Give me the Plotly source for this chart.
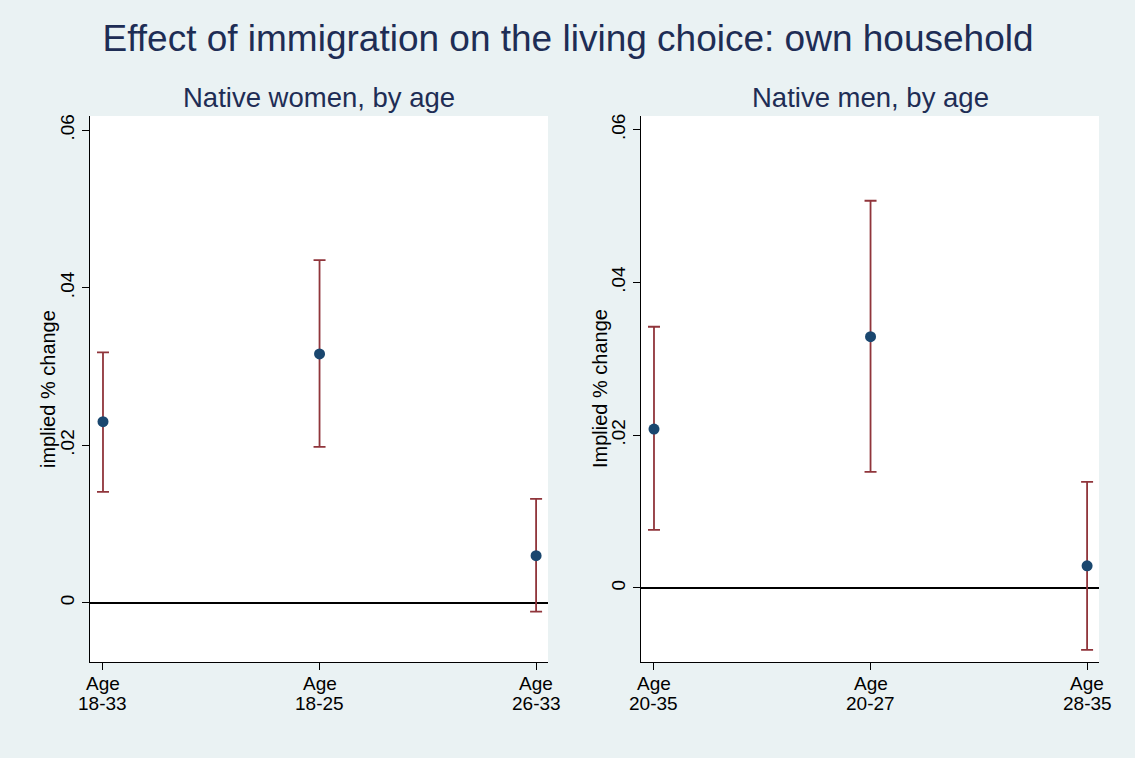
import plotly.graph_objects as go

# Data
women_ages = ["18-33", "18-25", "26-33"]
women_est = [0.0230, 0.0316, 0.0060]
women_hi = [0.0318, 0.0435, 0.0132]
women_lo = [0.0141, 0.0198, -0.0011]

men_ages = ["20-35", "20-27", "28-35"]
men_est = [0.0208, 0.0329, 0.0029]
men_hi = [0.0342, 0.0507, 0.0139]
men_lo = [0.0076, 0.0152, -0.0081]

xtick_word = ["Age", "Age", "Age"]
ytick_vals = [0, 0.02, 0.04, 0.06]
ytick_text = ["0", ".02", ".04", ".06"]

NAVY = "#1A476F"
TITLE = "#1E2D55"
MAROON = "#90353B"
BG = "#EAF2F3"
FONT = "Liberation Sans, Arial, sans-serif"

fig = go.Figure()

def add_panel(est, hi, lo, xa, ya):
    xs = [1, 2, 3]
    fig.add_trace(go.Scatter(
        x=xs, y=est, mode="markers",
        marker=dict(color=NAVY, size=11),
        error_y=dict(type="data", symmetric=False,
                     array=[h - e for h, e in zip(hi, est)],
                     arrayminus=[e - l for e, l in zip(est, lo)],
                     color=MAROON, thickness=1.8, width=6),
        xaxis=xa, yaxis=ya, showlegend=False, hoverinfo="skip"))

add_panel(women_est, women_hi, women_lo, "x", "y")
add_panel(men_est, men_hi, men_lo, "x2", "y2")

ydom = [1 - 662 / 758, 1 - 116 / 758]
common_x = dict(tickmode="array", tickvals=[1, 2, 3], showticklabels=False,
                showline=True, linecolor="black",
                linewidth=1.2, ticks="outside", ticklen=7, tickcolor="black",
                showgrid=False, zeroline=False, range=[0.94, 3.055], automargin=False)
common_y = dict(tickmode="array", tickvals=ytick_vals, ticktext=ytick_text,
                showline=True, linecolor="black", linewidth=1.2, ticks="outside",
                ticklen=7, tickcolor="black", showgrid=False, zeroline=True,
                zerolinecolor="black", zerolinewidth=1.5, tickangle=-90, automargin=False,
                tickfont=dict(size=19, color="black", family=FONT))

annotations = [
    dict(text="Native women, by age", xref="paper", yref="paper",
         x=319 / 1135, y=1 - 98 / 758, xanchor="center", yanchor="middle",
         showarrow=False, font=dict(size=27.5, color=TITLE, family=FONT)),
    dict(text="Native men, by age", xref="paper", yref="paper",
         x=870 / 1135, y=1 - 98 / 758, xanchor="center", yanchor="middle",
         showarrow=False, font=dict(size=27.5, color=TITLE, family=FONT)),
    dict(text="implied % change", xref="paper", yref="paper", textangle=-90,
         x=48 / 1135, y=1 - 389 / 758, xanchor="center", yanchor="middle",
         showarrow=False, font=dict(size=20, color="black", family=FONT)),
    dict(text="Implied % change", xref="paper", yref="paper", textangle=-90,
         x=600 / 1135, y=1 - 389 / 758, xanchor="center", yanchor="middle",
         showarrow=False, font=dict(size=20, color="black", family=FONT)),
]
for xr, ages in (("x", women_ages), ("x2", men_ages)):
    for i, a in enumerate(ages):
        annotations.append(dict(text=xtick_word[i], xref=xr, yref="paper", x=i + 1,
                                y=1 - 683 / 758, xanchor="center", yanchor="middle",
                                showarrow=False, font=dict(size=19, color="black", family=FONT)))
        annotations.append(dict(text=a, xref=xr, yref="paper", x=i + 1, y=1 - 703 / 758,
                                xanchor="center", yanchor="middle", showarrow=False,
                                font=dict(size=19, color="black", family=FONT)))

fig.update_layout(
    width=1135, height=758,
    margin=dict(l=0, r=0, t=0, b=0),
    paper_bgcolor=BG, plot_bgcolor="white",
    font=dict(family=FONT, color="black"),
    xaxis=dict(domain=[90 / 1135, 548 / 1135], anchor="y", **common_x),
    yaxis=dict(domain=ydom, range=[-0.0075, 0.0618], anchor="x", **common_y),
    xaxis2=dict(domain=[641 / 1135, 1099 / 1135], anchor="y2", **common_x),
    yaxis2=dict(domain=ydom, range=[-0.0097, 0.0618], anchor="x2", **common_y),
    title=dict(text="Effect of immigration on the living choice: own household",
               x=568 / 1135, xanchor="center", y=1 - 38 / 758, yanchor="middle",
               font=dict(size=37, color=TITLE, family=FONT)),
    annotations=annotations,
)

fig.write_html("out.html", config={"displayModeBar": False},
               post_script="document.body.style.margin='0';")
